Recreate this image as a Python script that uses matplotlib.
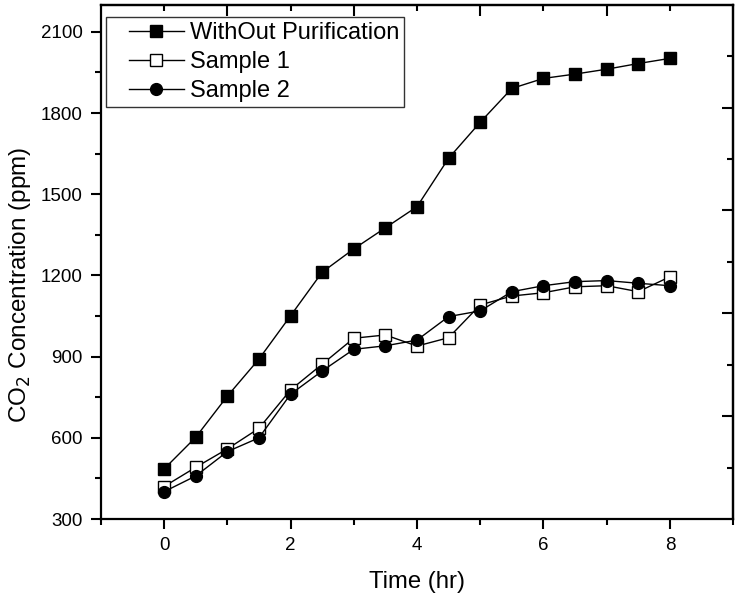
import matplotlib
matplotlib.use("Agg")
import matplotlib.pyplot as plt
from matplotlib.ticker import FixedLocator, NullFormatter
from matplotlib.legend_handler import HandlerLine2D

plt.rcParams["font.family"] = ["Liberation Sans", "DejaVu Sans"]

time_hr = [0, 0.5, 1, 1.5, 2, 2.5, 3, 3.5, 4, 4.5, 5, 5.5, 6, 6.5, 7, 7.5, 8]
without_purification = [485, 602, 754, 891, 1051, 1212, 1298, 1376, 1454, 1633,
                        1766, 1891, 1928, 1944, 1962, 1983, 2002]
sample_1 = [420, 491, 559, 635, 777, 872, 968, 980, 939, 970,
            1091, 1124, 1136, 1158, 1162, 1140, 1195]
sample_2 = [401, 459, 549, 600, 761, 847, 927, 940, 961, 1048,
            1069, 1140, 1162, 1177, 1181, 1171, 1162]

fig = plt.figure(figsize=(7.42, 6.0), dpi=100)
ax = fig.add_axes([0.136, 0.135, 0.852, 0.857])

line_kw = dict(color="black", linewidth=1.0, markersize=8.5)
ax.plot(time_hr, without_purification, marker="s", markerfacecolor="black",
        markeredgecolor="black", label="WithOut Purification", **line_kw)
ax.plot(time_hr, sample_1, marker="s", markerfacecolor="white",
        markeredgecolor="black", markeredgewidth=1.0, label="Sample 1", **line_kw)
ax.plot(time_hr, sample_2, marker="o", markerfacecolor="black",
        markeredgecolor="black", label="Sample 2", **line_kw)

ax.set_xlim(-1, 9)
ax.set_ylim(300, 2200)
ax.xaxis.set_major_locator(FixedLocator([0, 2, 4, 6, 8]))
ax.xaxis.set_minor_locator(FixedLocator([-1, 1, 3, 5, 7, 9]))
ax.yaxis.set_major_locator(FixedLocator([300, 600, 900, 1200, 1500, 1800, 2100]))
ax.yaxis.set_minor_locator(FixedLocator([450, 750, 1050, 1350, 1650, 1950]))

ax.tick_params(which="major", direction="out", length=7, width=1.5,
               labelsize=13.5, pad=6)
ax.tick_params(which="minor", direction="out", length=4, width=1.5)
for s in ax.spines.values():
    s.set_linewidth(1.6)

ax.set_xlabel("Time (hr)", fontsize=17.2, labelpad=12)
ax.set_ylabel("CO$_2$ Concentration (ppm)", fontsize=17.5)
ax.yaxis.set_label_coords(-0.108, 0.455)

# top / right axes with inward ticks, no labels
top = ax.secondary_xaxis("top")
top.xaxis.set_major_locator(FixedLocator([1, 3, 5, 7]))
top.xaxis.set_minor_locator(FixedLocator([0, 2, 4, 6, 8]))
top.xaxis.set_major_formatter(NullFormatter())
top.tick_params(which="major", direction="in", length=8, width=1.5)
top.tick_params(which="minor", direction="in", length=4, width=1.5)
top.spines["top"].set_linewidth(1.6)

right = ax.secondary_yaxis("right", functions=(lambda y: (y - 300) / 190.0,
                                               lambda u: u * 190.0 + 300))
right.yaxis.set_major_locator(FixedLocator([2, 4, 6, 8]))
right.yaxis.set_minor_locator(FixedLocator([1, 3, 5, 7, 9]))
right.yaxis.set_major_formatter(NullFormatter())
right.tick_params(which="major", direction="in", length=8, width=1.5)
right.tick_params(which="minor", direction="in", length=4, width=1.5)
right.spines["right"].set_linewidth(1.6)

leg = ax.legend(loc="upper left", bbox_to_anchor=(0.008, 0.977), fontsize=17,
                frameon=True, fancybox=False, handlelength=3.07,
                handletextpad=0.25, borderpad=0.22, labelspacing=0.3,
                borderaxespad=0,
                handler_map={matplotlib.lines.Line2D: HandlerLine2D(xpad=0.74)})
leg.get_frame().set_edgecolor("black")
leg.get_frame().set_linewidth(1.0)

fig.savefig("out.png", dpi=100)
